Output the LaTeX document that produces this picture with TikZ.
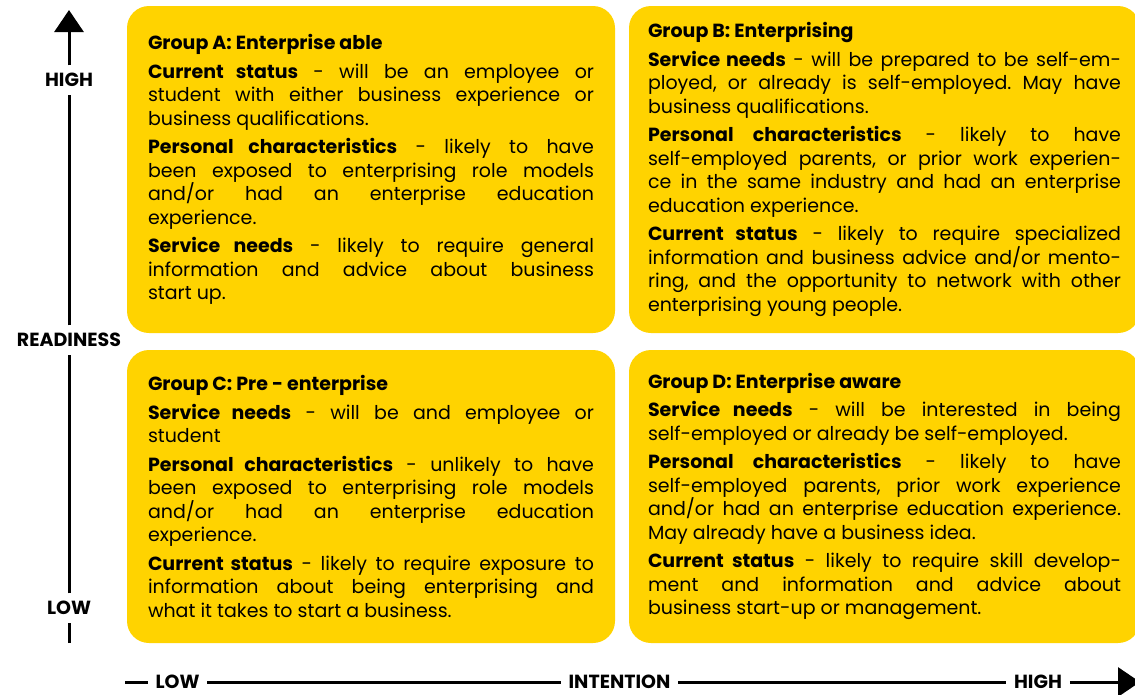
\documentclass[tikz,border=0pt]{standalone}
\usepackage{fontspec}
\setmainfont{Poppins}
\usetikzlibrary{arrows.meta}
\definecolor{grpyellow}{RGB}{255,211,0}
\newcommand{\grpsetup}{\parskip=5pt\relax\hyphenpenalty=10000\relax\exhyphenpenalty=10000\relax\frenchspacing}
\tikzset{
  grpbox/.style={fill=grpyellow, rounded corners=22pt, inner sep=0pt, align=justify,
    font=\fontsize{19}{23.5}\selectfont, execute at begin node=\grpsetup},
  axislabel/.style={font=\fontsize{19}{19}\selectfont\bfseries, inner sep=0pt, text height=13.5pt, text depth=0pt, outer sep=8pt},
  axisline/.style={line width=3pt}
}
\begin{document}
\begin{tikzpicture}[x=1pt,y=-1pt]
 \useasboundingbox (0,0) rectangle (1135,694);
 \node[grpbox, minimum width=488pt, minimum height=327pt, text width=446pt] (grpA) at (371,169.5) {%
  \textbf{Group A: Enterprise able}\par
  \textbf{Current status} - will be an employee or\linebreak student with either business experience or\linebreak business qualifications.\par
  \textbf{Personal characteristics} - likely to have\linebreak been exposed to enterprising role models\linebreak and/or had an enterprise education\linebreak experience.\par
  \textbf{Service needs} - likely to require general\linebreak information and advice about business\linebreak start up.};
 \node[grpbox, minimum width=511pt, minimum height=327pt, text width=473pt] (grpB) at (884.5,169.5) {%
  \textbf{Group B: Enterprising}\par
  \textbf{Service needs} - will be prepared to be self-em-\linebreak ployed, or already is self-employed. May have\linebreak business qualifications.\par
  \textbf{Personal characteristics} - likely to have\linebreak self-employed parents, or prior work experien-\linebreak ce in the same industry and had an enterprise\linebreak education experience.\par
  \textbf{Current status} - likely to require specialized\linebreak information and business advice and/or mento-\linebreak ring, and the opportunity to network with other\linebreak enterprising young people.};
 \node[grpbox, minimum width=488pt, minimum height=293pt, text width=446pt] (grpC) at (371,496.5) {%
  \textbf{Group C: Pre - enterprise}\par
  \textbf{Service needs} - will be and employee or\linebreak student\par
  \textbf{Personal characteristics} - unlikely to have\linebreak been exposed to enterprising role models\linebreak and/or had an enterprise education\linebreak experience.\par
  \textbf{Current status} - likely to require exposure to\linebreak information about being enterprising and\linebreak what it takes to start a business.};
 \node[grpbox, minimum width=511pt, minimum height=293pt, text width=473pt] (grpD) at (884.5,496.5) {%
  \textbf{Group D: Enterprise aware}\par
  \textbf{Service needs} - will be interested in being\linebreak self-employed or already be self-employed.\par
  \textbf{Personal characteristics} - likely to have\linebreak self-employed parents, prior work experience\linebreak and/or had an enterprise education experience.\linebreak May already have a business idea.\par
  \textbf{Current status} - likely to require skill develop-\linebreak ment and information and advice about\linebreak business start-up or management.};
 \node[axislabel] (yhigh) at (69,80) {HIGH};
 \node[axislabel] (yread) at (69,340) {READINESS};
 \node[axislabel] (ylow) at (69,608) {LOW};
 \coordinate (ytip) at (69,10);
 \coordinate (ybot) at (69,643);
 \draw[axisline] (ybot) -- (ylow);
 \draw[axisline] (ylow) -- (yread);
 \draw[axisline] (yread) -- (yhigh);
 \draw[axisline,-{Triangle[length=22pt,width=29pt]}] (yhigh) -- (ytip);
 \node[axislabel] (xlow) at (177.5,682) {LOW};
 \node[axislabel] (xint) at (619.5,682) {INTENTION};
 \node[axislabel] (xhigh) at (1038,682) {HIGH};
 \coordinate (xstart) at (125,682);
 \coordinate (xtip) at (1140,682);
 \draw[axisline] (xstart) -- (xlow);
 \draw[axisline] (xlow) -- (xint);
 \draw[axisline] (xint) -- (xhigh);
 \draw[axisline,-{Triangle[length=22pt,width=29pt]}] (xhigh) -- (xtip);
\end{tikzpicture}
\end{document}
